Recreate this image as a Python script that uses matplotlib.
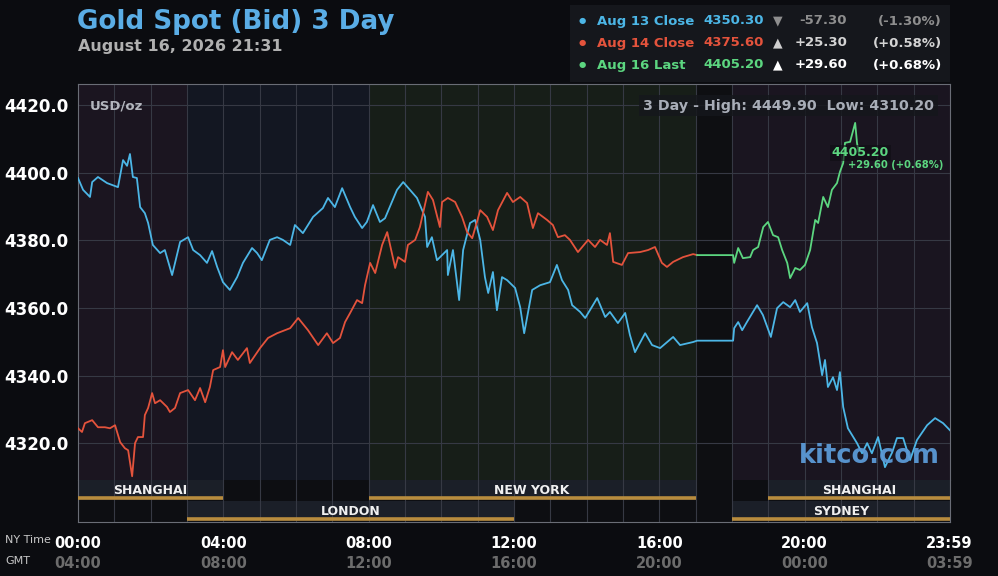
import numpy as np
import matplotlib.pyplot as plt
from matplotlib.transforms import blended_transform_factory
from matplotlib.patches import Rectangle

# ---- data (NY time in hours, price in USD/oz) ----
aug13_t = [0.00, 0.14, 0.33, 0.39, 0.55, 0.80, 1.10, 1.24, 1.35, 1.43, 1.51, 1.62, 1.71, 1.84, 1.93,
           2.06, 2.26, 2.39, 2.59, 2.81, 3.03, 3.17, 3.36, 3.55, 3.69, 3.83, 3.99, 4.18, 4.38, 4.54,
           4.79, 4.93, 5.06, 5.28, 5.48, 5.64, 5.84, 5.97, 6.19, 6.47, 6.74, 6.88, 7.07, 7.27, 7.49,
           7.62, 7.82, 7.95, 8.12, 8.31, 8.45, 8.78, 8.95, 9.33, 9.55, 9.61, 9.74, 9.88, 10.16, 10.18,
           10.32, 10.49, 10.60, 10.79, 10.93, 11.07, 11.20, 11.29, 11.42, 11.53, 11.67, 11.81, 12.03,
           12.17, 12.28, 12.50, 12.72, 12.99, 13.18, 13.32, 13.49, 13.60, 13.82, 13.96, 14.09, 14.29,
           14.51, 14.64, 14.86, 15.06, 15.19, 15.33, 15.61, 15.80, 16.02, 16.38, 16.57, 16.93, 17.04,
           18.03, 18.06, 18.17, 18.28, 18.41, 18.69, 18.85, 19.07, 19.24, 19.41, 19.60, 19.74, 19.87,
           20.07, 20.20, 20.34, 20.48, 20.56, 20.64, 20.78, 20.89, 20.97, 21.06, 21.19, 21.44, 21.58,
           21.72, 21.85, 22.02, 22.21, 22.41, 22.54, 22.71, 22.90, 23.09, 23.37, 23.59, 23.81, 24.00]
aug13_p = [4398.4, 4394.9, 4392.8, 4397.2, 4398.7, 4396.9, 4395.7, 4403.7, 4402.0, 4405.5, 4398.7,
           4398.4, 4389.8, 4388.0, 4385.1, 4378.6, 4376.2, 4377.1, 4369.7, 4379.5, 4380.9, 4377.1,
           4375.6, 4373.3, 4376.8, 4372.1, 4367.6, 4365.3, 4369.1, 4373.3, 4377.7, 4376.2, 4374.1,
           4380.1, 4380.9, 4380.1, 4378.6, 4384.5, 4382.1, 4386.9, 4389.5, 4392.5, 4389.8, 4395.4,
           4389.8, 4386.9, 4383.6, 4385.4, 4390.4, 4385.4, 4386.5, 4394.9, 4397.2, 4392.5, 4386.9,
           4378.0, 4380.9, 4374.1, 4377.1, 4369.7, 4377.1, 4362.3, 4377.1, 4385.1, 4386.0, 4380.1,
           4369.1, 4364.4, 4370.6, 4359.3, 4369.1, 4368.2, 4365.9, 4360.2, 4352.5, 4365.3, 4366.7,
           4367.6, 4372.7, 4368.2, 4365.3, 4360.8, 4358.8, 4357.0, 4359.3, 4362.9, 4357.3, 4358.8,
           4355.5, 4358.5, 4352.0, 4346.9, 4352.5, 4349.0, 4348.1, 4351.4, 4349.0, 4349.9, 4350.3,
           4350.3, 4354.0, 4355.8, 4353.4, 4355.8, 4360.8, 4357.9, 4351.4, 4359.9, 4361.7, 4360.2,
           4362.3, 4358.8, 4361.4, 4354.3, 4349.6, 4340.1, 4344.6, 4336.6, 4339.5, 4335.7, 4341.0,
           4330.7, 4324.4, 4320.0, 4317.0, 4320.0, 4317.0, 4321.8, 4312.9, 4317.3, 4321.5, 4321.5,
           4315.0, 4320.9, 4325.3, 4327.4, 4325.9, 4323.8]

aug14_t = [0.00, 0.11, 0.19, 0.39, 0.55, 0.74, 0.88, 1.02, 1.16, 1.29, 1.38, 1.49, 1.57, 1.65, 1.79,
           1.84, 1.93, 2.04, 2.12, 2.26, 2.45, 2.53, 2.67, 2.81, 3.03, 3.22, 3.36, 3.50, 3.63, 3.72,
           3.91, 3.99, 4.05, 4.24, 4.40, 4.65, 4.73, 5.01, 5.23, 5.48, 5.84, 6.06, 6.33, 6.61, 6.85,
           7.02, 7.21, 7.35, 7.49, 7.68, 7.82, 7.90, 8.04, 8.18, 8.37, 8.51, 8.73, 8.81, 9.00, 9.08,
           9.28, 9.41, 9.63, 9.77, 9.96, 10.02, 10.18, 10.38, 10.57, 10.71, 10.85, 10.98, 11.07, 11.26,
           11.42, 11.56, 11.81, 11.97, 12.17, 12.36, 12.52, 12.66, 12.91, 13.07, 13.21, 13.40, 13.54,
           13.76, 14.04, 14.23, 14.37, 14.56, 14.64, 14.73, 14.97, 15.14, 15.47, 15.69, 15.88, 16.07,
           16.21, 16.38, 16.65, 16.93, 17.04]
aug14_p = [4324.4, 4323.3, 4325.9, 4326.8, 4324.7, 4324.7, 4324.4, 4325.3, 4320.3, 4318.5, 4317.9,
           4310.2, 4320.0, 4321.8, 4321.8, 4328.3, 4330.4, 4334.8, 4331.8, 4332.7, 4330.7, 4329.2,
           4330.4, 4334.8, 4335.7, 4332.7, 4336.3, 4332.1, 4336.6, 4341.6, 4342.5, 4347.5, 4342.5,
           4346.9, 4344.6, 4348.1, 4343.7, 4348.1, 4351.1, 4352.5, 4354.0, 4357.0, 4353.4, 4349.0,
           4352.5, 4349.6, 4351.1, 4355.8, 4358.5, 4362.3, 4361.4, 4366.7, 4373.3, 4370.3, 4378.6,
           4382.4, 4371.8, 4375.0, 4373.6, 4378.6, 4380.1, 4383.9, 4394.3, 4391.9, 4383.9, 4391.3,
           4392.5, 4391.3, 4386.9, 4382.4, 4380.6, 4385.4, 4388.9, 4386.9, 4383.0, 4388.9, 4394.0,
           4391.3, 4392.8, 4391.0, 4383.6, 4388.0, 4386.0, 4384.5, 4380.9, 4381.5, 4380.1, 4376.5,
           4380.1, 4378.0, 4380.1, 4378.6, 4382.1, 4373.6, 4372.7, 4376.2, 4376.5, 4377.1, 4378.0,
           4373.3, 4372.1, 4373.6, 4375.0, 4375.9, 4375.6]

aug16_t = [17.04, 18.03, 18.06, 18.17, 18.30, 18.50, 18.58, 18.72, 18.86, 18.99, 19.13, 19.27, 19.38,
           19.52, 19.60, 19.74, 19.87, 20.01, 20.15, 20.29, 20.37, 20.51, 20.64, 20.75, 20.89, 20.97,
           21.06, 21.11, 21.25, 21.39, 21.44, 21.50]
aug16_p = [4375.6, 4375.6, 4373.3, 4377.7, 4374.7, 4375.0, 4377.1, 4378.0, 4383.9, 4385.4, 4381.5,
           4380.9, 4377.1, 4373.3, 4368.8, 4371.8, 4371.2, 4372.7, 4377.1, 4386.0, 4385.1, 4392.8,
           4389.8, 4394.9, 4396.9, 4400.2, 4402.8, 4408.8, 4409.1, 4414.7, 4408.8, 4405.2]

legend_names = ['Aug 13 Close', 'Aug 14 Close', 'Aug 16 Last']
legend_values = ['4350.30', '4375.60', '4405.20']
legend_changes = ['-57.30', '+25.30', '+29.60']
legend_pcts = ['(-1.30%)', '(+0.58%)', '(+0.68%)']
legend_arrows = ['▼', '▲', '▲']

ny_labels = ['00:00', '04:00', '08:00', '12:00', '16:00', '20:00', '23:59']
gmt_labels = ['04:00', '08:00', '12:00', '16:00', '20:00', '00:00', '03:59']
label_hours = [0, 4, 8, 12, 16, 20, 23.98]

# background zones (start, end)
zones = [(0, 3), (3, 8), (8, 17), (17, 18), (18, 24)]
# session bars: row 1 = upper, row 0 = lower
sessions = [('SHANGHAI', 0, 4, 1), ('NEW YORK', 8, 17, 1), ('SHANGHAI', 19, 24, 1),
            ('LONDON', 3, 12, 0), ('SYDNEY', 18, 24, 0)]

# ---- styles ----
W, H = 998, 576
BG = '#0b0c10'
zone_cols = ['#1b1520', '#131722', '#171e18', '#0e0f12', '#1a1520']
c_blue, c_red, c_green = '#4cb6e6', '#e4533c', '#5cd680'
grid_c = '#363944'
gold = '#b88c3e'


def fx(px):
    return px / W


def fy(py):
    return 1 - py / H


fig = plt.figure(figsize=(W / 100, H / 100), dpi=100, facecolor=BG)

ax = fig.add_axes([fx(78), fy(480), fx(950) - fx(78), fy(84) - fy(480)])
ax2 = fig.add_axes([fx(78), fy(522), fx(950) - fx(78), fy(480) - fy(522)], sharex=ax)

ax.set_facecolor(BG)
for (a, b), col in zip(zones, zone_cols):
    ax.axvspan(a, b, color=col, lw=0, zorder=0)

ax.plot(aug13_t, aug13_p, color=c_blue, lw=1.3, zorder=3)
ax.plot(aug14_t, aug14_p, color=c_red, lw=1.3, zorder=3)
ax.plot(aug16_t, aug16_p, color=c_green, lw=1.3, zorder=4)

ax.set_xlim(0, 24)
ax.set_ylim(4309.1, 4426.2)
ax.set_yticks(np.arange(4320, 4421, 20))
ax.set_yticklabels(['%.1f' % v for v in np.arange(4320, 4421, 20)],
                   color='white', fontsize=12, fontweight='bold')
ax.set_xticks(range(0, 25))
ax.tick_params(axis='both', length=0, pad=7)
ax.tick_params(axis='x', labelbottom=False)
ax.grid(True, color=grid_c, lw=0.8, zorder=1)
for s in ['top', 'left', 'right']:
    ax.spines[s].set_color('#6a6d76')
ax.spines['bottom'].set_visible(False)

ax.text(0.014, 0.945, 'USD/oz', transform=ax.transAxes, color='#b4b6be', fontsize=9.5,
        fontweight='bold', va='center', zorder=5)
ax.text(0.648, 0.945, '3 Day - High: 4449.90  Low: 4310.20', transform=ax.transAxes,
        color='#a8adb7', fontsize=10.3, fontweight='bold', va='center', zorder=5,
        bbox=dict(boxstyle='square,pad=0.25', fc='#15171c', ec='none', alpha=0.85))

# last value marker label
ax.text(20.75, 4405.8, legend_values[2], color=c_green, fontsize=9, fontweight='bold',
        va='center', zorder=6,
        bbox=dict(boxstyle='square,pad=0.15', fc='#0f0e14', ec='none', alpha=0.6))
ax.text(21.2, 4402.2, '+29.60 (+0.68%)', color=c_green, fontsize=7.2, fontweight='bold',
        va='center', zorder=6)

ax.text(0.988, 0.06, 'kitco.com', transform=ax.transAxes, color='#5b9ad6', fontsize=18.5,
        fontweight='bold', ha='right', va='center', zorder=7, alpha=0.95)

# sessions strip
ax2.set_facecolor('#0d0e12')
ax2.set_ylim(0, 2)
for name, a, b, row in sessions:
    ax2.add_patch(Rectangle((a, row + 0.05), b - a, 0.95, color='#1b1f28', lw=0, zorder=0))
    ax2.hlines(row + 0.14, a, b, color=gold, lw=2.6, zorder=3)
    ax2.text((a + b) / 2, row + 0.5, name, color='#f0f0f0', fontsize=9, fontweight='bold',
             ha='center', va='center', zorder=4)
ax2.set_xticks(range(0, 25))
ax2.set_yticks([])
ax2.tick_params(axis='x', length=0, labelbottom=False)
ax2.grid(True, axis='x', color=grid_c, lw=0.8, zorder=1)
for s in ['bottom', 'left', 'right']:
    ax2.spines[s].set_color('#6a6d76')
ax2.spines['top'].set_visible(False)

# time labels
tr = blended_transform_factory(ax2.transData, fig.transFigure)
for h, ny, gmt in zip(label_hours, ny_labels, gmt_labels):
    ax2.text(h, fy(543), ny, transform=tr, color='white', fontsize=10.5, fontweight='bold',
             ha='center', va='center')
    ax2.text(h, fy(563), gmt, transform=tr, color='#6c6c6c', fontsize=10.5, fontweight='bold',
             ha='center', va='center')
fig.text(fx(5), fy(540), 'NY Time', color='#c8c8c8', fontsize=8, va='center')
fig.text(fx(5), fy(561), 'GMT', color='#c8c8c8', fontsize=8, va='center')

# title
fig.text(fx(77), fy(22), 'Gold Spot (Bid) 3 Day', color='#5aade6', fontsize=18.8,
         fontweight='bold', va='center')
fig.text(fx(78), fy(46), 'August 16, 2026 21:31', color='#b0b0b0', fontsize=11.5,
         fontweight='bold', va='center')

# legend panel
fig.patches.append(Rectangle((fx(570), fy(82)), fx(950) - fx(570), fy(5) - fy(82),
                             transform=fig.transFigure, color='#15171c', lw=0, zorder=0))
row_y = [21, 43, 65]
row_cols = [c_blue, c_red, c_green]
chg_cols = ['#8e8e8e', '#d4d4d4', '#ffffff']
arrow_cols = ['#8e8e8e', '#cfcfcf', '#ffffff']
for i in range(3):
    y = fy(row_y[i])
    fig.text(fx(582), y, '●', color=row_cols[i], fontsize=6, ha='center', va='center')
    fig.text(fx(597), y, legend_names[i], color=row_cols[i], fontsize=9.5, fontweight='bold',
             va='center')
    fig.text(fx(764), y, legend_values[i], color=row_cols[i], fontsize=9.5, fontweight='bold',
             va='center', ha='right')
    fig.text(fx(778), y, legend_arrows[i], color=arrow_cols[i], fontsize=9, ha='center',
             va='center')
    fig.text(fx(847), y, legend_changes[i], color=chg_cols[i], fontsize=9.5, fontweight='bold',
             va='center', ha='right')
    fig.text(fx(942), y, legend_pcts[i], color=chg_cols[i], fontsize=9.5, fontweight='bold',
             va='center', ha='right')

fig.savefig('out.png', dpi=100, facecolor=BG)
